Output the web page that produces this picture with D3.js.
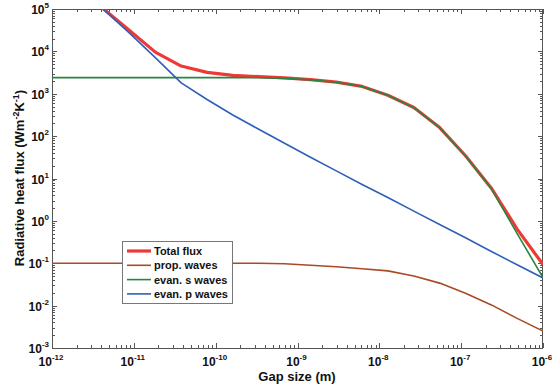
<!DOCTYPE html>
<html><head><meta charset="utf-8">
<script src="https://cdn.jsdelivr.net/npm/d3@7"></script>
<style>
body{margin:0;background:#fff;}
text{font-family:"Liberation Sans",Arial,Helvetica,sans-serif;font-weight:bold;fill:#111;}
</style></head>
<body><svg id="c" width="552" height="389"></svg>
<script>
const gaps = [1e-12, 2.07e-12, 4.28e-12, 8.86e-12, 1.83e-11, 3.79e-11, 7.85e-11, 1.62e-10, 3.36e-10, 6.95e-10,
  1.44e-9, 2.98e-9, 6.16e-9, 1.27e-8, 2.64e-8, 5.46e-8, 1.13e-7, 2.34e-7, 4.83e-7, 1e-6];
const totalFlux = [1.3e6, 3.6e5, 1.0e5, 3.1e4, 9.6e3, 4.5e3, 3.2e3, 2.72e3, 2.53e3, 2.37e3,
  2.16e3, 1.885e3, 1.49e3, 925, 472, 159, 34.5, 5.9, 0.64, 0.093];
const propWaves = [0.1, 0.1, 0.1, 0.1, 0.1, 0.1, 0.1, 0.1, 0.1, 0.097,
  0.09, 0.083, 0.074, 0.066, 0.05, 0.034, 0.0197, 0.0104, 0.005, 0.0025];
const evanS = [2.4e3, 2.4e3, 2.4e3, 2.4e3, 2.4e3, 2.4e3, 2.4e3, 2.4e3, 2.38e3, 2.3e3,
  2.13e3, 1.87e3, 1.48e3, 920, 470, 158, 34, 5.7, 0.5, 0.046];
const evanP = [1.3e6, 3.6e5, 9.7e4, 2.7e4, 7.1e3, 1.8e3, 730, 316, 145, 68,
  31.6, 15.1, 7.2, 3.55, 1.7, 0.82, 0.40, 0.19, 0.092, 0.045];
const seriesNames = ["Total flux", "prop. waves", "evan. s waves", "evan. p waves"];
const seriesColors = ["#ee3a36", "#a94a26", "#2a8440", "#2f5fb8"];
const xTickExps = [-12, -11, -10, -9, -8, -7, -6];
const yTickExps = [-3, -2, -1, 0, 1, 2, 3, 4, 5];

const svg = d3.select("#c");
const L = 52, R = 543, T = 9, B = 348;
const x = d3.scaleLog().domain([1e-12, 1e-6]).range([L, R]);
const y = d3.scaleLog().domain([1e-3, 1e5]).range([B, T]);

svg.append("defs").append("clipPath").attr("id", "clip")
  .append("rect").attr("x", L).attr("y", T).attr("width", R - L).attr("height", B - T);

const axisColor = "#555";
const xt = x.ticks(60), yt = y.ticks(60);
const g = svg.append("g");
function isMajor(v){ const l = Math.log10(v); return Math.abs(l - Math.round(l)) < 1e-6; }
xt.forEach(v => {
  const len = isMajor(v) ? 5 : 3;
  const px = Math.round(x(v)) + 0.5;
  g.append("line").attr("x1", px).attr("x2", px).attr("y1", B).attr("y2", B - len).attr("stroke", axisColor);
  g.append("line").attr("x1", px).attr("x2", px).attr("y1", T).attr("y2", T + len).attr("stroke", axisColor);
});
yt.forEach(v => {
  const len = isMajor(v) ? 5 : 3;
  const py = Math.round(y(v)) + 0.5;
  g.append("line").attr("x1", L).attr("x2", L + len).attr("y1", py).attr("y2", py).attr("stroke", axisColor);
  g.append("line").attr("x1", R).attr("x2", R - len).attr("y1", py).attr("y2", py).attr("stroke", axisColor);
});
g.append("rect").attr("x", L + 0.5).attr("y", T + 0.5).attr("width", R - L - 1).attr("height", B - T)
  .attr("fill", "none").attr("stroke", axisColor).attr("stroke-width", 1);

xTickExps.forEach(e => {
  const t = svg.append("text").attr("x", x(Math.pow(10, e)) - 1).attr("y", 366)
    .attr("text-anchor", "middle").attr("font-size", 12);
  t.append("tspan").text("10");
  t.append("tspan").attr("dy", -6).attr("font-size", 8).text(String(e));
});
yTickExps.forEach(e => {
  const t = svg.append("text").attr("x", 49).attr("y", y(Math.pow(10, e)) + 5)
    .attr("text-anchor", "end").attr("font-size", 12);
  t.append("tspan").text("10");
  t.append("tspan").attr("dy", -6).attr("font-size", 8).text(String(e));
});

svg.append("text").attr("x", 297).attr("y", 381).attr("text-anchor", "middle")
  .attr("font-size", 13).text("Gap size (m)");
const yl = svg.append("text").attr("transform", "translate(24,178) rotate(-90)")
  .attr("text-anchor", "middle").attr("font-size", 13);
yl.append("tspan").text("Radiative heat flux (Wm");
yl.append("tspan").attr("dy", -5).attr("font-size", 9).text("-2");
yl.append("tspan").attr("dy", 5).text("K");
yl.append("tspan").attr("dy", -5).attr("font-size", 9).text("-1");
yl.append("tspan").attr("dy", 5).text(")");

const allSeries = [totalFlux, propWaves, evanS, evanP];
const widths = [3.2, 1.6, 1.6, 1.6];
const line = d3.line().x((d, i) => x(gaps[i])).y(d => y(d));
const plot = svg.append("g").attr("clip-path", "url(#clip)");
allSeries.forEach((s, k) => {
  plot.append("path").datum(s).attr("d", line).attr("fill", "none")
    .attr("stroke", seriesColors[k]).attr("stroke-width", widths[k]).attr("stroke-linejoin", "round");
});

const lg = svg.append("g");
lg.append("rect").attr("x", 122.5).attr("y", 241.5).attr("width", 110).attr("height", 62)
  .attr("fill", "#fff").attr("stroke", "#777");
seriesNames.forEach((n, k) => {
  const yy = 251 + k * 14.3;
  lg.append("line").attr("x1", 127).attr("x2", 151).attr("y1", yy).attr("y2", yy)
    .attr("stroke", seriesColors[k]).attr("stroke-width", widths[k]);
  lg.append("text").attr("x", 154).attr("y", yy + 4).attr("font-size", 11).text(n);
});
</script></body></html>
